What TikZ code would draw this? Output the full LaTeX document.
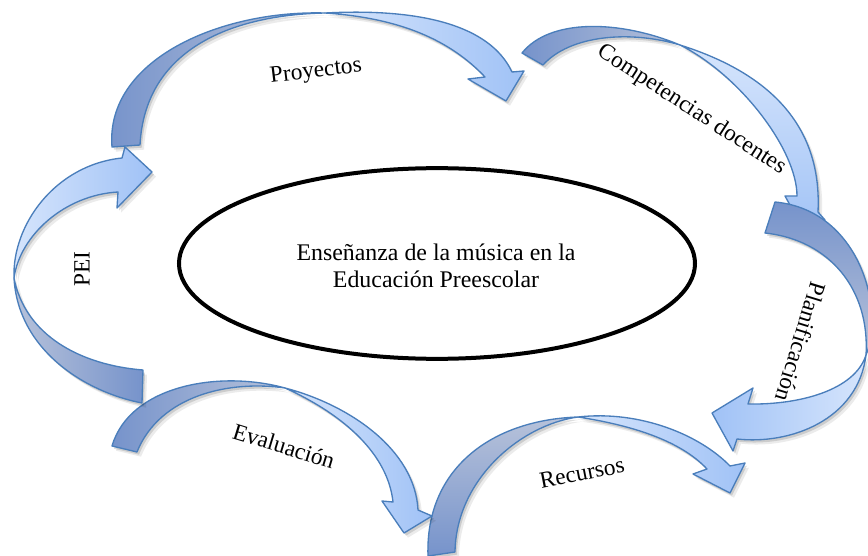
\documentclass[tikz,border=0pt]{standalone}
\usepackage{fontspec}
\setmainfont{Liberation Serif}
\usetikzlibrary{shapes.geometric}
\definecolor{arrline}{HTML}{4A7EBB}
\definecolor{taildark}{HTML}{7693CB}
\definecolor{tailgray}{HTML}{B7C2DA}
\definecolor{headlight}{HTML}{D6E5FC}
\definecolor{headblue}{HTML}{A0C2F6}
% arrow outlines (pixel coordinates, y downwards)
\newcommand\pProT{(112,147) .. controls (105,60) and (220,10) .. (325,13) .. controls (230,15) and (145,50) .. (140,145) -- cycle}
\newcommand\pProH{(325,13) .. controls (420,8) and (490,25) .. (512,72) -- (524,71) -- (506,101) -- (468,79) -- (485,77) .. controls (450,40) and (400,18) .. (325,13) -- cycle}
\newcommand\pComT{(522,53) .. controls (550,18) and (620,20) .. (680,45) .. controls (630,30) and (570,35) .. (543,65) -- cycle}
\newcommand\pComH{(680,45) .. controls (775,75) and (822,130) .. (818,212) -- (825,220) -- (808,238) -- (785,196) -- (797,196) .. controls (797,150) and (740,75) .. (680,45) -- cycle}
\newcommand\pPlaT{(775,202) .. controls (860,210) and (885,310) .. (866,355) .. controls (870,290) and (830,240) .. (765,233) -- cycle}
\newcommand\pPlaH{(866,355) .. controls (858,420) and (790,445) .. (737,439) -- (733,451) -- (712,413) -- (753,388) -- (748,404) .. controls (800,405) and (855,390) .. (866,355) -- cycle}
\newcommand\pRecT{(428,556) .. controls (425,470) and (490,420) .. (578,417) .. controls (520,425) and (456,480) .. (455,552) -- cycle}
\newcommand\pRecH{(578,417) .. controls (640,410) and (700,435) .. (730,466) -- (745,463) -- (730,493) -- (693,474) -- (707,469) .. controls (680,440) and (630,425) .. (578,417) -- cycle}
\newcommand\pEvaT{(112,446) .. controls (130,385) and (220,370) .. (285,388) .. controls (230,380) and (160,395) .. (137,452) -- cycle}
\newcommand\pEvaH{(285,388) .. controls (350,405) and (415,450) .. (418,510) -- (432,516) -- (404,533) -- (382,501) -- (393,502) .. controls (388,455) and (345,415) .. (285,388) -- cycle}
\newcommand\pPeiT{(142,403) .. controls (85,392) and (18,350) .. (14,278) .. controls (25,335) and (80,365) .. (143,370) -- cycle}
\newcommand\pPeiH{(14,278) .. controls (12,225) and (55,165) .. (122,158) -- (125,147) -- (152,172) -- (117,208) -- (118,192) .. controls (65,195) and (20,235) .. (14,278) -- cycle}
\tikzset{
  shadowa/.style={fill=black, opacity=0.13, xshift=1.5pt, yshift=-2pt},
  shadowb/.style={fill=black, opacity=0.08, xshift=3pt, yshift=-3.5pt},
  arrpart/.style={draw=arrline, line width=1pt, line join=round},
  lab/.style={font=\fontsize{17.5}{20}\selectfont, inner sep=0pt},
}
\begin{document}
\begin{tikzpicture}[x=0.75pt,y=-0.75pt]
\useasboundingbox (0,0) rectangle (868,556);
\clip (0,0) rectangle (868,556);
\fill[white] (0,0) rectangle (868,556);

% Proyectos
\fill[shadowb] \pProT \pProH;
\fill[shadowa] \pProT \pProH;
\shade[arrpart, left color=taildark, right color=tailgray] \pProT;
\shade[arrpart, left color=headlight, right color=headblue] \pProH;
% Competencias docentes
\fill[shadowb] \pComT \pComH;
\fill[shadowa] \pComT \pComH;
\shade[arrpart, left color=taildark, right color=tailgray] \pComT;
\shade[arrpart, top color=headlight, bottom color=headblue] \pComH;
% Planificacion
\fill[shadowb] \pPlaT \pPlaH;
\fill[shadowa] \pPlaT \pPlaH;
\shade[arrpart, top color=taildark, bottom color=tailgray] \pPlaT;
\shade[arrpart, left color=headblue, right color=headlight] \pPlaH;
% Recursos
\fill[shadowb] \pRecT \pRecH;
\fill[shadowa] \pRecT \pRecH;
\shade[arrpart, top color=tailgray, bottom color=taildark] \pRecT;
\shade[arrpart, left color=headlight, right color=headblue] \pRecH;
% Evaluacion
\fill[shadowb] \pEvaT \pEvaH;
\fill[shadowa] \pEvaT \pEvaH;
\shade[arrpart, left color=taildark, right color=tailgray] \pEvaT;
\shade[arrpart, left color=headlight, right color=headblue] \pEvaH;
% PEI
\fill[shadowb] \pPeiT \pPeiH;
\fill[shadowa] \pPeiT \pPeiH;
\shade[arrpart, left color=tailgray, right color=taildark] \pPeiT;
\shade[arrpart, left color=headlight, right color=headblue] \pPeiH;

% central ellipse
\node[draw, ellipse, line width=3pt, minimum width=387pt, minimum height=143pt, inner sep=0pt] (core) at (437,263.5) {};
\node[align=center, font=\fontsize{17.9}{20}\selectfont, inner sep=0pt] (coretext) at (436,266) {Enseñanza de la música en la\\Educación Preescolar};

% labels
\node[lab, rotate=7] (proy) at (316,72) {Proyectos};
\node[lab, rotate=-33] (comp) at (692,110) {Competencias docentes};
\node[lab, rotate=-107] (plan) at (801,342) {Planificación};
\node[lab, rotate=11] (recu) at (582,473) {Recursos};
\node[lab, rotate=-17] (eval) at (284,446) {Evaluación};
\node[lab, rotate=90] (pei) at (82,269) {PEI};
\end{tikzpicture}
\end{document}
